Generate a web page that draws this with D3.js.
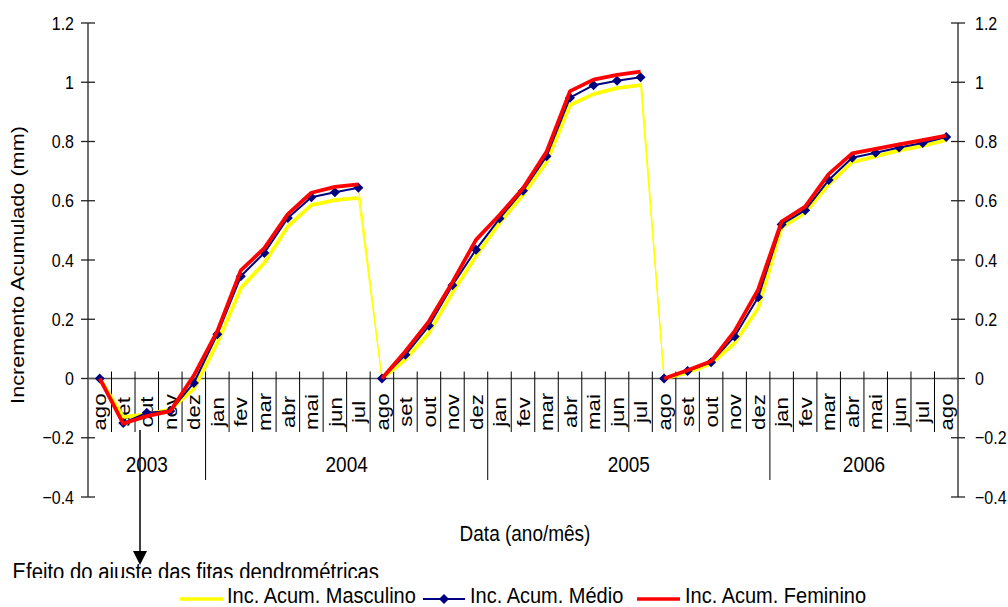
<!DOCTYPE html>
<html><head><meta charset="utf-8">
<script src="https://cdn.jsdelivr.net/npm/d3@7"></script>
<style>html,body{margin:0;padding:0;background:#fff}svg{display:block;font-family:"Liberation Sans",Arial,sans-serif}</style>
</head><body><svg id="c" width="1008" height="607"></svg>
<script>
// ---- data ----
const months = ["ago","set","out","nov","dez",
  "jan","fev","mar","abr","mai","jun","jul","ago","set","out","nov","dez",
  "jan","fev","mar","abr","mai","jun","jul","ago","set","out","nov","dez",
  "jan","fev","mar","abr","mai","jun","jul","ago"];
const years = ["2003","2004","2005","2006"];
const yearCounts = [5,12,12,8];
const yTicks = [-0.4,-0.2,0,0.2,0.4,0.6,0.8,1,1.2];
const masculino = [0,-0.13,-0.12,-0.105,-0.035,
  0.12,0.305,0.39,0.514,0.585,0.602,0.61,0,0.064,0.154,0.29,0.413,
  0.525,0.62,0.73,0.923,0.96,0.98,0.99,0,0.02,0.05,0.12,0.237,
  0.51,0.56,0.655,0.73,0.75,0.77,0.785,0.805];
const medio = [0,-0.15,-0.116,-0.11,-0.015,
  0.149,0.345,0.424,0.542,0.612,0.629,0.644,0,0.08,0.178,0.315,0.435,
  0.54,0.634,0.75,0.948,0.99,1.005,1.017,0,0.025,0.055,0.142,0.274,
  0.52,0.568,0.67,0.745,0.762,0.78,0.795,0.815];
const feminino = [0,-0.152,-0.127,-0.11,0.01,
  0.16,0.365,0.44,0.555,0.627,0.647,0.655,0,0.092,0.193,0.325,0.468,
  0.552,0.642,0.765,0.97,1.009,1.025,1.036,0,0.028,0.058,0.16,0.30,
  0.53,0.58,0.69,0.76,0.775,0.79,0.805,0.82];
const seriesNames = ["Inc. Acum. Masculino","Inc. Acum. Médio","Inc. Acum. Feminino"];
const segBreaks = [12,24]; // restart points (ago)

// ---- layout ----
const svg = d3.select("#c");
const L=88, R=958, T=23, B=497;
const K=1.17;
const x = d3.scaleBand().domain(d3.range(months.length)).range([L,R]).padding(0);
const cx = i => x(i)+x.bandwidth()/2;
const y = d3.scaleLinear().domain([-0.4,1.2]).range([B,T]);
const y0 = y(0);

function txt(g, s, tx, ty, opts={}) {
  const t = g.append("text")
    .attr("transform",`translate(${tx},${ty}) scale(1,${opts.k||K})${opts.rot?` rotate(${opts.rot})`:""}`)
    .attr("font-size", opts.size||20)
    .attr("text-anchor", opts.anchor||"start")
    .attr("fill","#000")
    .text(s);
  if (opts.dy) t.attr("dy", opts.dy);
  return t;
}

// axes
const ax = svg.append("g");
ax.append("line").attr("x1",L).attr("x2",L).attr("y1",T).attr("y2",B).attr("stroke","#222").attr("stroke-width",1.3);
ax.append("line").attr("x1",R).attr("x2",R).attr("y1",T).attr("y2",B).attr("stroke","#222").attr("stroke-width",1.3);
yTicks.forEach(v=>{
  ax.append("line").attr("x1",L-7).attr("x2",L+7).attr("y1",y(v)).attr("y2",y(v)).attr("stroke","#222").attr("stroke-width",1.3);
  ax.append("line").attr("x1",R-7).attr("x2",R+7).attr("y1",y(v)).attr("y2",y(v)).attr("stroke","#222").attr("stroke-width",1.3);
  const lab = d3.format("")(+v.toFixed(1));
  txt(ax, lab, 74, y(v), {anchor:"end", size:16, dy:"0.35em", k:1.2});
  txt(ax, lab, 975, y(v), {anchor:"start", size:16, dy:"0.35em", k:1.2});
});
// zero line
ax.append("line").attr("x1",L).attr("x2",R).attr("y1",y0).attr("y2",y0).attr("stroke","#555").attr("stroke-width",1.6);

// category ticks
const yearStarts = [];
let acc=0; yearCounts.forEach(c=>{yearStarts.push(acc); acc+=c;});
for (let i=1;i<months.length;i++){
  const isYear = yearStarts.includes(i);
  ax.append("line").attr("x1",x(i)).attr("x2",x(i)).attr("y1",y0-7).attr("y2",isYear?480:432)
    .attr("stroke","#000").attr("stroke-width",1);
}
months.forEach((m,i)=>{
  txt(ax, m, cx(i), 412, {anchor:"middle", size:19, rot:-90, dy:"0.35em"});
});
years.forEach((yr,j)=>{
  const a = x(yearStarts[j]), b = x(yearStarts[j]+yearCounts[j]-1)+x.bandwidth();
  txt(ax, yr, (a+b)/2, 472, {anchor:"middle", size:19});
});
// axis titles
txt(svg, "Incremento Acumulado (mm)", 18, 265, {anchor:"middle", size:18.5, rot:-90, dy:"0.35em"});
txt(svg, "Data (ano/mês)", 525, 541, {anchor:"middle", size:19});

// ---- series ----
function segments(vals){
  const starts=[0,...segBreaks], ends=[...segBreaks, vals.length];
  return starts.map((s,k)=>d3.range(s,ends[k]).map(i=>[cx(i),y(vals[i])]));
}
const line = d3.line();
const plot = svg.append("g");
// thin drop lines
[masculino,medio,feminino].forEach(vals=>{
  segBreaks.forEach(b=>{
    plot.append("path").attr("d",line([[cx(b-1),y(vals[b-1])],[cx(b),y(vals[b])]]))
      .attr("fill","none").attr("stroke","#ffff00").attr("stroke-width",1);
  });
});
segments(masculino).forEach(s=>plot.append("path").attr("d",line(s)).attr("fill","none")
  .attr("stroke","#ffff00").attr("stroke-width",3.8).attr("stroke-linejoin","round"));
segments(medio).forEach(s=>plot.append("path").attr("d",line(s)).attr("fill","none")
  .attr("stroke","#000080").attr("stroke-width",2).attr("stroke-linejoin","round"));
const diamond = "M0,-5L5,0L0,5L-5,0Z";
medio.forEach((v,i)=>plot.append("path").attr("d",diamond)
  .attr("transform",`translate(${cx(i)},${y(v)})`).attr("fill","#000080"));
segments(feminino).forEach(s=>plot.append("path").attr("d",line(s)).attr("fill","none")
  .attr("stroke","#ff0000").attr("stroke-width",3.8).attr("stroke-linejoin","round"));

// ---- annotation ----
svg.append("line").attr("x1",140).attr("x2",140).attr("y1",430).attr("y2",553).attr("stroke","#000").attr("stroke-width",1.5);
svg.append("path").attr("d","M133,551L147,551L140,565Z").attr("fill","#000");
txt(svg, "Efeito do ajuste das fitas dendrométricas", 12.5, 580, {size:20.3, k:1.15});

// ---- legend (white box overlaps the bottom of the annotation, as in the original) ----
const lg = svg.append("g");
lg.append("rect").attr("x",0).attr("y",578).attr("width",1008).attr("height",29).attr("fill","#fff");
const ly=599, ty=603;
lg.append("line").attr("x1",180).attr("x2",223).attr("y1",ly).attr("y2",ly).attr("stroke","#ffff00").attr("stroke-width",3.5);
txt(lg, seriesNames[0], 227, ty, {size:20, k:1.12});
lg.append("line").attr("x1",423).attr("x2",465).attr("y1",ly).attr("y2",ly).attr("stroke","#000080").attr("stroke-width",2);
lg.append("path").attr("d",diamond).attr("transform",`translate(444,${ly})`).attr("fill","#000080");
txt(lg, seriesNames[1], 470, ty, {size:20, k:1.12});
lg.append("line").attr("x1",637).attr("x2",680).attr("y1",ly).attr("y2",ly).attr("stroke","#ff0000").attr("stroke-width",3.5);
txt(lg, seriesNames[2], 685, ty, {size:20, k:1.12});
</script></body></html>
